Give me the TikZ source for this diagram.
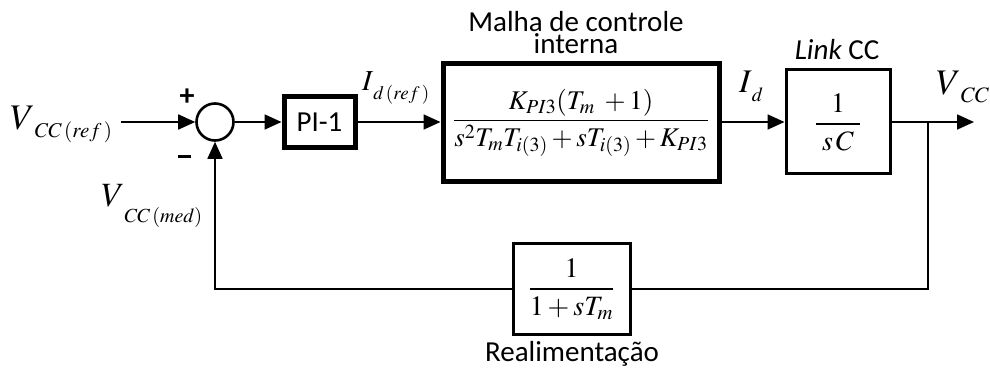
\documentclass[tikz,border=0pt]{standalone}
\usepackage{amsmath}
\usepackage{mathptmx}
\usepackage[no-math]{fontspec}
\newfontfamily\sansc{Carlito}
\usetikzlibrary{arrows.meta}
\newcommand\symlab[5]{{\fontsize{#2}{#2}\selectfont$#1$}\raisebox{-#5pt}{\fontsize{#4}{#4}\selectfont$#3$}}
\tikzset{
  conn/.style={line width=1.8pt},
  arr/.style={conn,-{Triangle[length=17pt,width=15pt]}},
  thickbox/.style={draw,line width=5pt,inner sep=0pt},
  thinbox/.style={draw,line width=3pt,inner sep=0pt},
  txt/.style={inner sep=0pt,font=\sansc\fontsize{29}{29}\selectfont},
  lab/.style={inner sep=0pt,anchor=base west},
  frac/.style={font=\fontsize{28}{30}\selectfont}
}
\begin{document}
\begin{tikzpicture}[x=1pt,y=-1pt]
\useasboundingbox (0,0) rectangle (990,371);
% blocks
\node[circle,draw,line width=2.6pt,minimum size=37pt,inner sep=0pt] (sum) at (215,122) {};
\node[thickbox,minimum width=71pt,minimum height=51pt,txt] (pi) at (319.5,122) {PI-1};
\node[thickbox,minimum width=276pt,minimum height=118pt,font=\fontsize{27}{29}\selectfont] (big) at (581,123)
  {$\dfrac{K_{PI3}(T_m\;+1)}{s^2T_mT_{i(3)}+sT_{i(3)}+K_{PI3}}$};
\node[thinbox,minimum width=104pt,minimum height=104pt,frac] (link) at (838,122)
  {$\dfrac{1}{\;s\,C\;}$};
\node[thinbox,minimum width=117pt,minimum height=90pt,frac] (fb) at (571.5,289)
  {$\dfrac{1}{1+sT_m}$};
% coordinates
\coordinate (in) at (121,122);
\coordinate (br) at (928,122);
\coordinate (out) at (974,122);
% connectors
\draw[arr] (in) -- (sum.west);
\draw[arr] (sum.east) -- (pi.west);
\draw[arr] (pi.east) -- (pi.east -| big.west);
\draw[arr] (big.east |- link.west) -- (link.west);
\draw[conn] (link.east) -- (br);
\draw[arr] (br) -- (out);
\draw[conn] (br) |- (fb.east);
\draw[arr] (fb.west) -| (sum.south);
% labels
\node[lab] (vref) at (10,130) {\symlab{V}{36}{CC\,(ref\,)}{21}{8}};
\node[lab] (vmed) at (101,207) {\symlab{V}{34}{CC\,(med)}{20}{16}};
\node[lab] (idref) at (362,91) {\symlab{I}{29}{d\,(ref\,)}{19}{9}};
\node[lab] (id) at (739,93) {\symlab{I}{33}{d}{20}{9}};
\node[lab] (vout) at (936,95) {\symlab{V}{36}{CC}{22}{8}};
\node[inner sep=0pt,font=\sansc\bfseries\fontsize{30}{30}\selectfont] (plus) at (187,97) {+};
\node[inner sep=0pt] (minus) at (184,157) {\rule{13pt}{3pt}};
\node[inner sep=0pt,anchor=south,align=center,font=\sansc\fontsize{29}{22}\selectfont] (malha) at (576,54) {Malha de controle\\interna};
\node[txt,anchor=base] (linkcc) at (837,60) {\itshape Link\upshape{} CC};
\node[txt,anchor=base] (realim) at (572,361) {Realimentação};
\end{tikzpicture}
\end{document}
